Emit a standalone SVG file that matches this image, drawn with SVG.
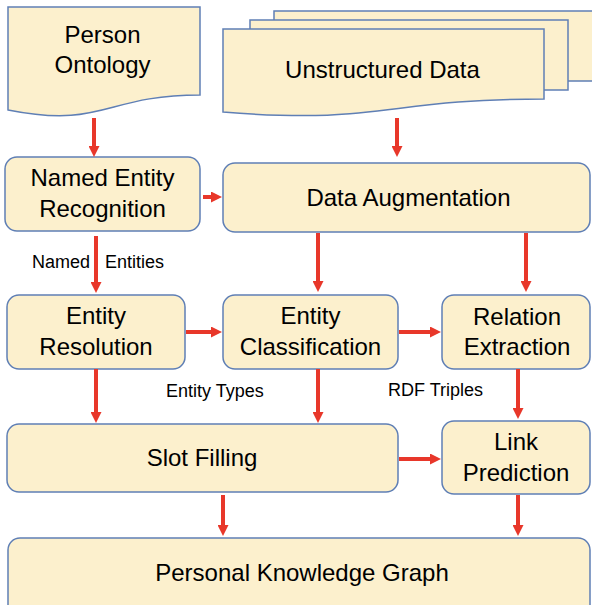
<svg xmlns="http://www.w3.org/2000/svg" width="592" height="605" viewBox="0 0 592 605">
<style>
.box{fill:#FCF0CD;stroke:#5F7FB5;stroke-width:1.5}
.t{font-family:"Liberation Sans",Arial,sans-serif;font-size:24px;fill:#000;text-anchor:middle}
.lbl{font-family:"Liberation Sans",Arial,sans-serif;font-size:18px;fill:#000}
.arr{stroke:#E8372A;stroke-width:4;fill:none;marker-end:url(#ah)}
</style>
<defs>
<marker id="ah" markerUnits="userSpaceOnUse" markerWidth="11" markerHeight="11" refX="0" refY="5.5" orient="auto">
<path d="M0,0 L11,5.5 L0,11 Z" fill="#E8372A"/>
</marker>
</defs>
<rect width="592" height="605" fill="#fff"/>
<g id="person-ontology">
<path class="box" d="M8,7 H200 V95 C104,95 104,129 8,110 Z"/>
<text class="t" x="102.5" y="43">Person</text>
<text class="t" x="102.5" y="73">Ontology</text>
</g>
<g id="unstructured-data">
<rect class="box" x="274" y="11" width="330" height="70"/>
<rect class="box" x="250" y="20" width="318" height="70"/>
<path class="box" d="M223,29 H544 V99 C383.5,99 383.5,125 223,112 Z"/>
<text class="t" x="382.5" y="78">Unstructured Data</text>
</g>
<g id="ner">
<rect class="box" x="5" y="157" width="195" height="74" rx="12"/>
<text class="t" x="102.5" y="186">Named Entity</text>
<text class="t" x="102.5" y="217">Recognition</text>
</g>
<g id="data-augmentation">
<rect class="box" x="223" y="163" width="367" height="69" rx="12"/>
<text class="t" x="408.5" y="206">Data Augmentation</text>
</g>
<g id="entity-resolution">
<rect class="box" x="7" y="295" width="178" height="74" rx="12"/>
<text class="t" x="96" y="324">Entity</text>
<text class="t" x="96" y="355">Resolution</text>
</g>
<g id="entity-classification">
<rect class="box" x="223" y="295" width="175" height="74" rx="12"/>
<text class="t" x="310.5" y="324">Entity</text>
<text class="t" x="310.5" y="355">Classification</text>
</g>
<g id="relation-extraction">
<rect class="box" x="442" y="295" width="148" height="74" rx="12"/>
<text class="t" x="517" y="325">Relation</text>
<text class="t" x="517" y="355">Extraction</text>
</g>
<g id="slot-filling">
<rect class="box" x="7" y="424" width="391" height="68" rx="12"/>
<text class="t" x="202" y="466">Slot Filling</text>
</g>
<g id="link-prediction">
<rect class="box" x="442" y="421" width="148" height="73" rx="12"/>
<text class="t" x="516" y="450">Link</text>
<text class="t" x="516" y="481">Prediction</text>
</g>
<g id="pkg">
<rect class="box" x="8" y="538" width="582" height="80" rx="12"/>
<text class="t" x="302" y="581">Personal Knowledge Graph</text>
</g>
<g id="connectors">
<line class="arr" x1="94" y1="118" x2="94" y2="146"/>
<line class="arr" x1="397" y1="118" x2="397" y2="146"/>
<line class="arr" x1="203" y1="197" x2="211" y2="197"/>
<line class="arr" x1="96" y1="236" x2="96" y2="282"/>
<line class="arr" x1="318" y1="233" x2="318" y2="281"/>
<line class="arr" x1="526" y1="233" x2="526" y2="281"/>
<line class="arr" x1="186" y1="332" x2="211" y2="332"/>
<line class="arr" x1="399" y1="332" x2="430" y2="332"/>
<line class="arr" x1="96" y1="369" x2="96" y2="412"/>
<line class="arr" x1="318" y1="369" x2="318" y2="412"/>
<line class="arr" x1="518" y1="369" x2="518" y2="408"/>
<line class="arr" x1="399" y1="459" x2="430" y2="459"/>
<line class="arr" x1="223" y1="495" x2="223" y2="525"/>
<line class="arr" x1="518" y1="495" x2="518" y2="525"/>
</g>
<g id="labels">
<text class="lbl" x="32" y="268" word-spacing="10">Named Entities</text>
<text class="lbl" x="166" y="397">Entity Types</text>
<text class="lbl" x="388" y="396">RDF Triples</text>
</g>
</svg>
